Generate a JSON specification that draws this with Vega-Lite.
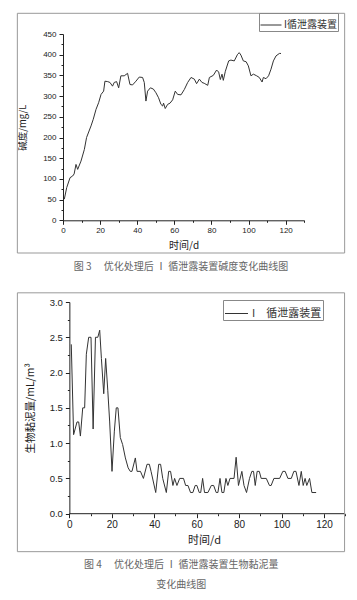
{
  "$schema": "https://vega.github.io/schema/vega-lite/v6.json",
  "padding": {"left": 16, "top": 12, "right": 0, "bottom": 0},
  "background": "white",
  "config": {
    "view": {"stroke": null},
    "axis": {"grid": false, "domainColor": "#222", "tickColor": "#222", "labelColor": "#222", "titleColor": "#222", "labelFont": "Liberation Sans", "titleFont": "Noto Sans CJK SC", "titleFontWeight": "normal", "labelOverlap": false, "labelFlush": false, "domainWidth": 1, "tickWidth": 1}
  },
  "columns": 1,
  "align": "none",
  "spacing": 20,
  "resolve": {"scale": {"color": "independent"}, "legend": {"color": "independent"}},
  "concat": [
    {
      "width": 241.2,
      "height": 186.3,
      "title": {"text": "图 3　 优化处理后 Ⅰ 循泄露装置碱度变化曲线图", "orient": "bottom", "anchor": "middle", "frame": "bounds", "font": "Noto Sans CJK SC", "fontSize": 10, "fontWeight": "normal", "color": "#666", "offset": 8},
      "layer": [
        {
          "data": {"values": [
            {"day": 0.7, "v": 51}, {"day": 2, "v": 79}, {"day": 3.8, "v": 103}, {"day": 5.2, "v": 107}, {"day": 6, "v": 112}, {"day": 7, "v": 135}, {"day": 7.9, "v": 123}, {"day": 9.7, "v": 143}, {"day": 11.5, "v": 171}, {"day": 12.7, "v": 200}, {"day": 15.1, "v": 228}, {"day": 16.3, "v": 244}, {"day": 17.8, "v": 268}, {"day": 19.2, "v": 284}, {"day": 20.5, "v": 304}, {"day": 21.9, "v": 312}, {"day": 22.6, "v": 336}, {"day": 24.1, "v": 335}, {"day": 25.3, "v": 333}, {"day": 26.7, "v": 324}, {"day": 27.6, "v": 333}, {"day": 28.9, "v": 335}, {"day": 30, "v": 320}, {"day": 31.2, "v": 349}, {"day": 33, "v": 349}, {"day": 34.8, "v": 355}, {"day": 36.1, "v": 328}, {"day": 37.5, "v": 327}, {"day": 39.3, "v": 336}, {"day": 41.1, "v": 346}, {"day": 42.9, "v": 345}, {"day": 43.8, "v": 333}, {"day": 44.7, "v": 288}, {"day": 45.6, "v": 312}, {"day": 47.1, "v": 320}, {"day": 48.7, "v": 317}, {"day": 50.1, "v": 308}, {"day": 51.5, "v": 296}, {"day": 52.8, "v": 280}, {"day": 53.7, "v": 276}, {"day": 54.2, "v": 283}, {"day": 55.1, "v": 270}, {"day": 56.4, "v": 280}, {"day": 57.7, "v": 283}, {"day": 59.1, "v": 291}, {"day": 60.5, "v": 312}, {"day": 61.8, "v": 304}, {"day": 63.6, "v": 303}, {"day": 65.4, "v": 316}, {"day": 67.2, "v": 333}, {"day": 69, "v": 345}, {"day": 70.8, "v": 341}, {"day": 72, "v": 330}, {"day": 73.5, "v": 341}, {"day": 74.9, "v": 333}, {"day": 76.1, "v": 331}, {"day": 78, "v": 326}, {"day": 78.9, "v": 345}, {"day": 81, "v": 350}, {"day": 82.8, "v": 363}, {"day": 83.9, "v": 358}, {"day": 84.8, "v": 340}, {"day": 85.7, "v": 353}, {"day": 86.4, "v": 338}, {"day": 87.5, "v": 360}, {"day": 89.3, "v": 385}, {"day": 90.5, "v": 387}, {"day": 92.3, "v": 385}, {"day": 94.1, "v": 401}, {"day": 95, "v": 405}, {"day": 95.9, "v": 399}, {"day": 97.2, "v": 385}, {"day": 98.7, "v": 383}, {"day": 99.9, "v": 373}, {"day": 101.3, "v": 349}, {"day": 102.6, "v": 353}, {"day": 104.4, "v": 349}, {"day": 105.8, "v": 345}, {"day": 107.3, "v": 334}, {"day": 108, "v": 345}, {"day": 109.4, "v": 342}, {"day": 110.8, "v": 349}, {"day": 112.1, "v": 365}, {"day": 113.4, "v": 385}, {"day": 114.8, "v": 397}, {"day": 116.6, "v": 403}, {"day": 117.5, "v": 403}
          ]},
          "mark": {"type": "line", "strokeWidth": 1, "color": "#333"},
          "encoding": {
            "x": {"field": "day", "type": "quantitative", "scale": {"domain": [0, 130], "nice": false, "zero": false},
              "axis": {"values": [0, 10, 20, 30, 40, 50, 60, 70, 80, 90, 100, 110, 120, 130], "labelExpr": "datum.value % 20 === 0 ? datum.label : ''", "tickSize": {"condition": {"test": "datum.value % 20 === 0", "value": 4}, "value": 2}, "labelFontSize": 8, "labelPadding": 2, "title": "时间/d", "titleFontSize": 10, "titlePadding": 6}},
            "y": {"field": "v", "type": "quantitative", "scale": {"domain": [0, 450], "nice": false, "zero": false},
              "axis": {"values": [0, 25, 50, 75, 100, 125, 150, 175, 200, 225, 250, 275, 300, 325, 350, 375, 400, 425, 450], "labelExpr": "datum.value % 50 === 0 ? datum.label : ''", "tickSize": {"condition": {"test": "datum.value % 50 === 0", "value": 4}, "value": 2}, "labelFontSize": 8, "labelPadding": 3, "title": "碱度/mg/L", "titleFontSize": 9.5, "titlePadding": 15}},
            "color": {"datum": "I循泄露装置", "type": "nominal", "scale": {"range": ["#333333"]},
              "legend": {"orient": "none", "legendX": 196, "legendY": -21, "title": null, "symbolType": "stroke", "symbolStrokeWidth": 1, "symbolSize": 440, "labelFont": "Noto Sans CJK SC", "labelFontSize": 10, "labelColor": "#333", "strokeColor": "#888", "padding": 1, "labelOffset": 2}}
          }
        },
        {
          "data": {"values": [{}]},
          "mark": {"type": "rect", "filled": false, "stroke": "#999", "strokeWidth": 1, "clip": false},
          "encoding": {
            "x": {"datum": -24.6, "type": "quantitative", "scale": {"domain": [0, 130], "nice": false, "zero": false},
              "axis": {"values": [0, 10, 20, 30, 40, 50, 60, 70, 80, 90, 100, 110, 120, 130], "labelExpr": "datum.value % 20 === 0 ? datum.label : ''", "tickSize": {"condition": {"test": "datum.value % 20 === 0", "value": 4}, "value": 2}, "labelFontSize": 8, "labelPadding": 2, "title": "时间/d", "titleFontSize": 10, "titlePadding": 6}},
            "x2": {"datum": 151.8},
            "y": {"datum": 500, "type": "quantitative", "scale": {"domain": [0, 450], "nice": false, "zero": false},
              "axis": {"values": [0, 25, 50, 75, 100, 125, 150, 175, 200, 225, 250, 275, 300, 325, 350, 375, 400, 425, 450], "labelExpr": "datum.value % 50 === 0 ? datum.label : ''", "tickSize": {"condition": {"test": "datum.value % 50 === 0", "value": 4}, "value": 2}, "labelFontSize": 8, "labelPadding": 3, "title": "碱度/mg/L", "titleFontSize": 9.5, "titlePadding": 15}},
            "y2": {"datum": -79}
          }
        }
      ]
    },
    {
      "width": 282.2,
      "height": 211.7,
      "title": {"text": ["图 4　 优化处理后 Ⅰ 循泄露装置生物黏泥量", "变化曲线图"], "orient": "bottom", "anchor": "middle", "frame": "bounds", "font": "Noto Sans CJK SC", "fontSize": 10, "fontWeight": "normal", "color": "#666", "offset": 8, "lineHeight": 20},
      "layer": [
        {
          "data": {"values": [
            {"day": 0.9, "v": 2.4}, {"day": 2, "v": 1.12}, {"day": 3.6, "v": 1.3}, {"day": 4.4, "v": 1.3}, {"day": 5.2, "v": 1.1}, {"day": 6.3, "v": 1.5}, {"day": 7.2, "v": 1.5}, {"day": 8, "v": 2.26}, {"day": 9.1, "v": 2.5}, {"day": 10.2, "v": 2.5}, {"day": 11.2, "v": 1.2}, {"day": 12.3, "v": 2.5}, {"day": 13.4, "v": 2.5}, {"day": 14.3, "v": 2.6}, {"day": 15.1, "v": 2.2}, {"day": 16.2, "v": 1.7}, {"day": 17.1, "v": 2.2}, {"day": 18.1, "v": 1.75}, {"day": 19, "v": 1.3}, {"day": 20.1, "v": 0.6}, {"day": 21.2, "v": 1.17}, {"day": 22.1, "v": 1.5}, {"day": 22.9, "v": 1.5}, {"day": 24, "v": 1.08}, {"day": 25.1, "v": 0.98}, {"day": 26.4, "v": 0.79}, {"day": 27.7, "v": 0.65}, {"day": 28.7, "v": 0.6}, {"day": 29.5, "v": 0.6}, {"day": 31.1, "v": 0.79}, {"day": 31.9, "v": 0.6}, {"day": 33.5, "v": 0.6}, {"day": 34.9, "v": 0.5}, {"day": 36.6, "v": 0.7}, {"day": 37.7, "v": 0.7}, {"day": 38.5, "v": 0.6}, {"day": 40.7, "v": 0.3}, {"day": 42.1, "v": 0.7}, {"day": 43, "v": 0.7}, {"day": 44, "v": 0.5}, {"day": 45.7, "v": 0.3}, {"day": 46.8, "v": 0.6}, {"day": 47.7, "v": 0.6}, {"day": 48.8, "v": 0.4}, {"day": 49.6, "v": 0.5}, {"day": 50.7, "v": 0.4}, {"day": 52, "v": 0.5}, {"day": 53.8, "v": 0.5}, {"day": 54.8, "v": 0.4}, {"day": 55.9, "v": 0.4}, {"day": 57.1, "v": 0.3}, {"day": 58.2, "v": 0.3}, {"day": 59.3, "v": 0.4}, {"day": 60.1, "v": 0.4}, {"day": 61.2, "v": 0.3}, {"day": 61.9, "v": 0.3}, {"day": 62.8, "v": 0.5}, {"day": 63.7, "v": 0.3}, {"day": 65.3, "v": 0.3}, {"day": 66.9, "v": 0.4}, {"day": 68, "v": 0.4}, {"day": 69.2, "v": 0.3}, {"day": 70, "v": 0.3}, {"day": 71, "v": 0.5}, {"day": 71.9, "v": 0.3}, {"day": 72.8, "v": 0.3}, {"day": 73.8, "v": 0.5}, {"day": 74.7, "v": 0.4}, {"day": 75.7, "v": 0.5}, {"day": 77.6, "v": 0.5}, {"day": 78.6, "v": 0.8}, {"day": 79.7, "v": 0.4}, {"day": 81.3, "v": 0.6}, {"day": 82.3, "v": 0.4}, {"day": 83.5, "v": 0.3}, {"day": 84.9, "v": 0.5}, {"day": 86, "v": 0.6}, {"day": 86.8, "v": 0.6}, {"day": 87.6, "v": 0.4}, {"day": 88.5, "v": 0.6}, {"day": 89.5, "v": 0.6}, {"day": 90.4, "v": 0.5}, {"day": 92.8, "v": 0.5}, {"day": 94.3, "v": 0.4}, {"day": 95.1, "v": 0.4}, {"day": 96.4, "v": 0.5}, {"day": 99.1, "v": 0.5}, {"day": 100.6, "v": 0.6}, {"day": 101.7, "v": 0.6}, {"day": 103, "v": 0.5}, {"day": 104.6, "v": 0.5}, {"day": 105.8, "v": 0.6}, {"day": 106.8, "v": 0.6}, {"day": 108.2, "v": 0.4}, {"day": 109.3, "v": 0.6}, {"day": 110.2, "v": 0.4}, {"day": 111.1, "v": 0.5}, {"day": 111.9, "v": 0.4}, {"day": 113.2, "v": 0.5}, {"day": 114.3, "v": 0.3}, {"day": 116.3, "v": 0.3}
          ]},
          "mark": {"type": "line", "strokeWidth": 1, "color": "#333"},
          "encoding": {
            "x": {"field": "day", "type": "quantitative", "scale": {"domain": [-3, 130], "nice": false, "zero": false},
              "axis": {"values": [0, 10, 20, 30, 40, 50, 60, 70, 80, 90, 100, 110, 120, 130], "domain": false, "labelExpr": "datum.value % 20 === 0 ? datum.label : ''", "tickSize": {"condition": {"test": "datum.value % 20 === 0", "value": 4}, "value": 2}, "labelFontSize": 10, "labelPadding": 2, "title": "时间/d", "titleFontSize": 11, "titlePadding": 5}},
            "y": {"field": "v", "type": "quantitative", "scale": {"domain": [0, 3], "nice": false, "zero": false},
              "axis": {"values": [0, 0.25, 0.5, 0.75, 1, 1.25, 1.5, 1.75, 2, 2.25, 2.5, 2.75, 3], "offset": -6.37, "labelExpr": "abs(datum.value * 2 - round(datum.value * 2)) < 0.001 ? format(datum.value, '.1f') : ''", "tickSize": {"condition": {"test": "abs(datum.value * 2 - round(datum.value * 2)) < 0.001", "value": 4}, "value": 2}, "labelFontSize": 9.5, "labelPadding": 3, "title": "生物黏泥量/mL/m³", "titleFontSize": 10.5, "titlePadding": 14}},
            "color": {"datum": "I　循泄露装置", "type": "nominal", "scale": {"range": ["#333333"]},
              "legend": {"orient": "none", "legendX": 160, "legendY": -2, "title": null, "symbolType": "stroke", "symbolStrokeWidth": 1, "symbolSize": 530, "labelFont": "Noto Sans CJK SC", "labelFontSize": 11, "labelColor": "#333", "strokeColor": "#888", "padding": 1, "labelOffset": 3}}
          }
        },
        {
          "data": {"values": [{}]},
          "mark": {"type": "rule", "color": "#222", "strokeWidth": 1},
          "encoding": {
            "x": {"datum": 0, "type": "quantitative", "scale": {"domain": [-3, 130], "nice": false, "zero": false},
              "axis": {"values": [0, 10, 20, 30, 40, 50, 60, 70, 80, 90, 100, 110, 120, 130], "domain": false, "labelExpr": "datum.value % 20 === 0 ? datum.label : ''", "tickSize": {"condition": {"test": "datum.value % 20 === 0", "value": 4}, "value": 2}, "labelFontSize": 10, "labelPadding": 2, "title": "时间/d", "titleFontSize": 11, "titlePadding": 5}},
            "x2": {"datum": 130},
            "y": {"datum": 0, "type": "quantitative", "scale": {"domain": [0, 3], "nice": false, "zero": false},
              "axis": {"values": [0, 0.25, 0.5, 0.75, 1, 1.25, 1.5, 1.75, 2, 2.25, 2.5, 2.75, 3], "offset": -6.37, "labelExpr": "abs(datum.value * 2 - round(datum.value * 2)) < 0.001 ? format(datum.value, '.1f') : ''", "tickSize": {"condition": {"test": "abs(datum.value * 2 - round(datum.value * 2)) < 0.001", "value": 4}, "value": 2}, "labelFontSize": 9.5, "labelPadding": 3, "title": "生物黏泥量/mL/m³", "titleFontSize": 10.5, "titlePadding": 14}}
          }
        },
        {
          "data": {"values": [{}]},
          "mark": {"type": "rect", "filled": false, "stroke": "#999", "strokeWidth": 1, "clip": false},
          "encoding": {
            "x": {"datum": -24.5, "type": "quantitative", "scale": {"domain": [-3, 130], "nice": false, "zero": false},
              "axis": {"values": [0, 10, 20, 30, 40, 50, 60, 70, 80, 90, 100, 110, 120, 130], "domain": false, "labelExpr": "datum.value % 20 === 0 ? datum.label : ''", "tickSize": {"condition": {"test": "datum.value % 20 === 0", "value": 4}, "value": 2}, "labelFontSize": 10, "labelPadding": 2, "title": "时间/d", "titleFontSize": 11, "titlePadding": 5}},
            "x2": {"datum": 129.7},
            "y": {"datum": 3.13, "type": "quantitative", "scale": {"domain": [0, 3], "nice": false, "zero": false},
              "axis": {"values": [0, 0.25, 0.5, 0.75, 1, 1.25, 1.5, 1.75, 2, 2.25, 2.5, 2.75, 3], "offset": -6.37, "labelExpr": "abs(datum.value * 2 - round(datum.value * 2)) < 0.001 ? format(datum.value, '.1f') : ''", "tickSize": {"condition": {"test": "abs(datum.value * 2 - round(datum.value * 2)) < 0.001", "value": 4}, "value": 2}, "labelFontSize": 9.5, "labelPadding": 3, "title": "生物黏泥量/mL/m³", "titleFontSize": 10.5, "titlePadding": 14}},
            "y2": {"datum": -0.538}
          }
        }
      ]
    }
  ]
}
